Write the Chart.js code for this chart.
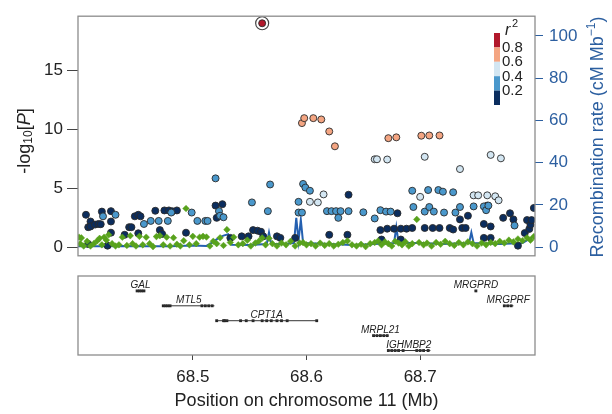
<!DOCTYPE html>
<html>
<head>
<meta charset="utf-8">
<script src="https://cdn.jsdelivr.net/npm/chart.js@4"></script>
<style>
  html, body { margin: 0; padding: 0; background: #fff; }
  #wrap { position: relative; width: 612px; height: 414px; }
  #top { position: absolute; left: 0; top: 0; width: 612px; height: 272px; }
  #bottom { position: absolute; left: 0; top: 272px; width: 612px; height: 142px; }
</style>
</head>
<body>
<div id="wrap">
  <div id="top"><canvas id="assocChart"></canvas></div>
  <div id="bottom"><canvas id="geneChart"></canvas></div>
</div>
<script>
const xRange = [68.399, 68.801];
const xTicks = [68.5, 68.6, 68.7];
const logpTicks = [0, 5, 10, 15];
const recombTicks = [0, 20, 40, 60, 80, 100];

const ldBreaks = ["0.2", "0.4", "0.6", "0.8"];
const ldColors = ["#0b2d5e", "#4a98cc", "#d3e6f2", "#f4a582", "#b2182b"];

const leadSnp = [[68.561, 19.0]];

const snpsHigh = [
  [68.596, 10.53], [68.598, 10.95], [68.606, 10.95], [68.613, 10.84],
  [68.620, 9.82], [68.625, 8.56], [68.672, 9.25], [68.679, 9.32],
  [68.701, 9.46], [68.708, 9.48], [68.717, 9.48],
];

const snpsMid = [
  [68.603, 3.85], [68.610, 3.80], [68.615, 4.48], [68.660, 7.46],
  [68.662, 7.46], [68.671, 7.44], [68.700, 4.27], [68.704, 7.67],
  [68.735, 6.63], [68.747, 4.40], [68.751, 4.40], [68.759, 4.40],
  [68.766, 4.32], [68.769, 3.98], [68.762, 7.83], [68.771, 7.54],
];

const snpsLow = [
  [68.421, 2.62], [68.432, 2.75], [68.457, 1.97], [68.463, 2.23],
  [68.470, 2.23], [68.478, 2.23], [68.481, 2.94], [68.499, 2.94],
  [68.504, 2.23], [68.511, 2.23], [68.513, 2.23], [68.520, 5.84],
  [68.523, 3.06], [68.524, 2.67], [68.527, 2.54], [68.552, 3.80],
  [68.566, 3.06], [68.568, 5.32], [68.593, 3.85], [68.593, 2.94],
  [68.596, 2.94], [68.597, 5.37], [68.599, 5.06], [68.603, 4.79],
  [68.618, 3.06], [68.622, 3.06], [68.626, 3.06], [68.628, 2.49],
  [68.630, 3.06], [68.637, 3.06], [68.650, 2.96], [68.660, 2.44],
  [68.665, 3.14], [68.670, 3.02], [68.674, 3.02], [68.693, 4.79],
  [68.694, 3.41], [68.704, 3.02], [68.707, 4.85], [68.708, 3.41],
  [68.712, 3.02], [68.716, 4.85], [68.720, 4.71], [68.721, 2.94],
  [68.729, 4.66], [68.731, 2.94], [68.735, 3.41], [68.747, 3.46],
  [68.756, 3.46], [68.758, 3.14], [68.760, 3.53], [68.783, 1.84],
];

const snpsNone = [
  [68.406, 2.75], [68.408, 1.70], [68.410, 2.18], [68.410, 1.76],
  [68.414, 1.92], [68.417, 1.97], [68.419, 1.95], [68.420, 3.02],
  [68.428, 3.06], [68.428, 2.18], [68.428, 1.23], [68.425, 0.13],
  [68.408, 0.27], [68.440, 1.05], [68.444, 1.70], [68.446, 1.70],
  [68.449, 2.62], [68.452, 2.75], [68.454, 2.62], [68.452, 1.18],
  [68.467, 3.09], [68.471, 1.45], [68.473, 1.13], [68.475, 3.12],
  [68.479, 3.12], [68.482, 3.05], [68.486, 3.12], [68.494, 1.23],
  [68.520, 3.53], [68.526, 3.65], [68.521, 2.49], [68.533, 0.79],
  [68.543, 0.92], [68.549, 0.92], [68.553, 1.45], [68.557, 1.40],
  [68.560, 1.31], [68.562, 0.92], [68.574, 0.92], [68.577, 0.79],
  [68.590, 0.79], [68.620, 1.05], [68.636, 1.05], [68.637, 4.45],
  [68.665, 1.45], [68.666, 0.65], [68.671, 1.57], [68.677, 1.57],
  [68.680, 2.88], [68.683, 1.57], [68.683, 0.65], [68.688, 1.57],
  [68.693, 1.63], [68.704, 1.63], [68.711, 1.63], [68.717, 1.63],
  [68.726, 1.63], [68.729, 1.50], [68.735, 2.36], [68.737, 1.63],
  [68.740, 1.63], [68.742, 2.67], [68.756, 1.97], [68.759, 3.53],
  [68.762, 1.76], [68.756, 0.79], [68.762, 0.79], [68.773, 2.49],
  [68.779, 2.88], [68.782, 2.36], [68.786, 0.13], [68.792, 1.20],
  [68.794, 2.30], [68.796, 1.55], [68.797, 1.90], [68.798, 2.30],
  [68.800, 3.33],
];

const snpsGreen = [
  [68.400, 0.85], [68.401, 0.30], [68.402, 0.79], [68.404, 0.10],
  [68.407, 0.50], [68.410, 0.10], [68.413, 0.30], [68.416, 0.55],
  [68.418, 0.75], [68.420, 0.20], [68.422, 0.85], [68.424, 0.60],
  [68.426, 1.05], [68.429, 0.30], [68.432, 0.10], [68.435, 0.20],
  [68.438, 0.85], [68.442, 0.15], [68.445, 0.97], [68.447, 0.30],
  [68.450, 0.10], [68.453, 0.92], [68.456, 0.20], [68.459, 0.85],
  [68.462, 0.30], [68.465, 0.05], [68.468, 0.90], [68.471, 0.97],
  [68.474, 0.20], [68.477, 0.85], [68.480, 0.10], [68.483, 0.80],
  [68.486, 0.25], [68.489, 0.10], [68.492, 0.55], [68.494, 3.28],
  [68.497, 0.20], [68.500, 0.92], [68.503, 0.30], [68.506, 0.85],
  [68.509, 0.92], [68.512, 0.86], [68.515, 0.10], [68.518, 0.50],
  [68.521, 0.30], [68.524, 0.80], [68.527, 0.15], [68.530, 1.49],
  [68.533, 0.40], [68.536, 0.85], [68.540, 0.20], [68.544, 0.30],
  [68.548, 0.60], [68.551, 0.10], [68.555, 0.35], [68.558, 0.50],
  [68.561, 0.79], [68.564, 0.20], [68.567, 0.75], [68.570, 0.30],
  [68.574, 0.10], [68.578, 0.35], [68.582, 0.20], [68.586, 0.50],
  [68.590, 0.10], [68.594, 0.35], [68.597, 0.39], [68.600, 0.20],
  [68.604, 0.30], [68.608, 0.10], [68.612, 0.35], [68.616, 0.15],
  [68.620, 0.30], [68.624, 0.10], [68.628, 0.25], [68.632, 0.40],
  [68.636, 0.53], [68.640, 0.20], [68.644, 0.10], [68.648, 0.25],
  [68.652, 0.05], [68.656, 0.30], [68.660, 0.40], [68.663, 0.53],
  [68.666, 0.20], [68.669, 0.45], [68.672, 0.30], [68.675, 0.10],
  [68.678, 0.50], [68.681, 0.35], [68.684, 0.20], [68.687, 0.45],
  [68.690, 0.10], [68.693, 0.30], [68.697, 2.36], [68.699, 0.40],
  [68.703, 0.20], [68.706, 0.35], [68.710, 0.10], [68.714, 0.40],
  [68.718, 0.25], [68.722, 0.50], [68.726, 0.30], [68.730, 0.15],
  [68.734, 0.40], [68.738, 0.20], [68.742, 0.45], [68.746, 0.30],
  [68.750, 0.10], [68.754, 0.35], [68.758, 0.20], [68.762, 0.40],
  [68.766, 0.30], [68.770, 0.50], [68.774, 0.35], [68.778, 0.60],
  [68.782, 0.45], [68.786, 0.70], [68.790, 0.55], [68.794, 0.80],
  [68.797, 0.60], [68.800, 0.90],
];

const recombPos = [
  68.399, 68.42, 68.44, 68.46, 68.48, 68.50, 68.512, 68.518, 68.523, 68.527,
  68.531, 68.534, 68.55, 68.565, 68.567, 68.569, 68.58, 68.589, 68.591, 68.593,
  68.595, 68.597, 68.62, 68.64, 68.66, 68.677, 68.679, 68.681, 68.70, 68.72,
  68.743, 68.745, 68.747, 68.77, 68.79, 68.801,
];
const recombRate = [
  0.5, 0.4, 0.6, 0.5, 0.4, 0.8, 0.6, 2.5, 4.5, 5.5,
  6.1, 1.2, 1.0, 1.5, 7.0, 1.5, 1.5, 2.0, 13.9, 3.0,
  13.0, 2.0, 1.5, 1.0, 1.5, 2.0, 9.5, 2.0, 2.0, 1.5,
  2.0, 7.0, 2.0, 1.5, 2.0, 5.5,
];

const geneNames = ["GAL", "MTL5", "CPT1A", "MRPL21", "IGHMBP2", "MRGPRD", "MRGPRF"];
const geneStart = [68.450, 68.474, 68.521, 68.658, 68.671, 68.748, 68.773];
const geneEnd = [68.458, 68.519, 68.609, 68.672, 68.709, 68.750, 68.782];
const geneRow = [1, 2, 3, 4, 5, 1, 2];
const geneExons = [
  [68.451, 68.453, 68.455, 68.457],
  [68.474, 68.476, 68.478, 68.480, 68.508, 68.511, 68.514, 68.517],
  [68.521, 68.527, 68.528, 68.530, 68.542, 68.547, 68.553, 68.561, 68.565, 68.569, 68.574, 68.578, 68.583, 68.609],
  [68.659, 68.662, 68.665, 68.668, 68.671],
  [68.672, 68.675, 68.678, 68.681, 68.685, 68.697, 68.700, 68.703, 68.707],
  [68.749],
  [68.774, 68.777, 68.780],
];

const FONT = "'Liberation Sans', Arial, sans-serif";
const recombColor = "#2c5fa0";
const boxColor = "#8c8c8c";

const toPoints = (pairs) => pairs.map(([x, y]) => ({ x, y }));

function snpSet(pairs, color, order) {
  return {
    type: "scatter",
    data: toPoints(pairs),
    yAxisID: "y",
    backgroundColor: color,
    borderColor: "#2a2a2a",
    borderWidth: 0.9,
    pointRadius: 3.5,
    order,
  };
}

const boxPlugin = {
  id: "box",
  afterDatasetsDraw(chart) {
    const { ctx, chartArea: a } = chart;
    ctx.save();
    ctx.strokeStyle = boxColor;
    ctx.lineWidth = 1.3;
    ctx.strokeRect(a.left, a.top, a.right - a.left, a.bottom - a.top);
    ctx.restore();
  },
};

function drawRun(ctx, parts, x, y) {
  let total = 0;
  parts.forEach((p) => {
    ctx.font = p.font;
    total += ctx.measureText(p.text).width;
  });
  let cx = x - total / 2;
  parts.forEach((p) => {
    ctx.font = p.font;
    ctx.fillText(p.text, cx, y + (p.dy || 0));
    cx += ctx.measureText(p.text).width;
  });
}

const decorPlugin = {
  id: "decor",
  afterDraw(chart) {
    const { ctx } = chart;
    ctx.save();
    ctx.textBaseline = "middle";
    ctx.textAlign = "left";

    ctx.save();
    ctx.translate(25, 141);
    ctx.rotate(-Math.PI / 2);
    ctx.fillStyle = "#222";
    drawRun(ctx, [
      { text: "-log", font: `18px ${FONT}` },
      { text: "10", font: `12px ${FONT}`, dy: 4 },
      { text: "[", font: `18px ${FONT}` },
      { text: "P", font: `italic 18px ${FONT}` },
      { text: "]", font: `18px ${FONT}` },
    ], 0, 0);
    ctx.restore();

    ctx.save();
    ctx.translate(598, 137);
    ctx.rotate(-Math.PI / 2);
    ctx.fillStyle = recombColor;
    drawRun(ctx, [
      { text: "Recombination rate (cM Mb", font: `18px ${FONT}` },
      { text: "\u22121", font: `12px ${FONT}`, dy: -6 },
      { text: ")", font: `18px ${FONT}` },
    ], 0, 0);
    ctx.restore();

    const barX = 494, barW = 6, barTop = 33, segH = 14.4;
    const colorsTopDown = ldColors.slice().reverse();
    colorsTopDown.forEach((c, i) => {
      ctx.fillStyle = c;
      ctx.fillRect(barX, barTop + i * segH, barW, segH);
    });
    ctx.fillStyle = "#222";
    ctx.font = `15px ${FONT}`;
    ldBreaks.slice().reverse().forEach((lab, i) => {
      ctx.fillText(lab, 502, barTop + (i + 1) * segH + 0.5);
    });
    ctx.font = `italic 16px ${FONT}`;
    ctx.fillText("r", 505, 31);
    ctx.font = `11px ${FONT}`;
    ctx.fillText("2", 512, 24);
    ctx.restore();
  },
};

new Chart(document.getElementById("assocChart"), {
  data: {
    datasets: [
      {
        type: "line",
        data: recombPos.map((x, i) => ({ x, y: recombRate[i] })),
        yAxisID: "y2",
        borderColor: "#2460b0",
        borderWidth: 2,
        pointRadius: 0,
        tension: 0,
        order: 10,
      },
      snpSet(snpsNone, ldColors[0], 9),
      {
        type: "scatter",
        data: toPoints(snpsGreen),
        yAxisID: "y",
        pointStyle: "rectRot",
        backgroundColor: "#58a21c",
        borderColor: "#58a21c",
        borderWidth: 0.5,
        pointRadius: 3.3,
        order: 8,
      },
      snpSet(snpsLow, ldColors[1], 7),
      snpSet(snpsMid, ldColors[2], 6),
      snpSet(snpsHigh, ldColors[3], 5),
      {
        type: "scatter",
        data: toPoints(leadSnp),
        yAxisID: "y",
        backgroundColor: "rgba(0,0,0,0)",
        borderColor: "#444",
        borderWidth: 1.2,
        pointRadius: 6.5,
        order: 2,
      },
      snpSet(leadSnp, ldColors[4], 1),
    ],
  },
  options: {
    responsive: true,
    maintainAspectRatio: false,
    animation: false,
    layout: { padding: { top: 12, bottom: 1, left: 0, right: 0 } },
    plugins: { legend: { display: false }, tooltip: { enabled: false } },
    scales: {
      x: { type: "linear", min: xRange[0], max: xRange[1], display: false },
      y: {
        position: "left",
        min: -0.73,
        max: 19.6,
        afterBuildTicks: (s) => { s.ticks = logpTicks.map((v) => ({ value: v })); },
        afterFit: (s) => { s.width = 78; },
        border: { display: false },
        grid: { drawOnChartArea: false, tickLength: 11, tickColor: "#444", tickWidth: 1 },
        ticks: { color: "#222", padding: 4, font: { family: FONT, size: 17 } },
      },
      y2: {
        position: "right",
        min: -4.07,
        max: 109.3,
        afterBuildTicks: (s) => { s.ticks = recombTicks.map((v) => ({ value: v })); },
        afterFit: (s) => { s.width = 77; },
        border: { display: false },
        grid: { drawOnChartArea: false, tickLength: 8, tickColor: recombColor, tickWidth: 1 },
        ticks: { color: recombColor, padding: 6, font: { family: FONT, size: 17 } },
      },
    },
  },
  plugins: [boxPlugin, decorPlugin],
});

const geneLabelPlugin = {
  id: "geneLabels",
  afterDatasetsDraw(chart) {
    const { ctx, scales } = chart;
    ctx.save();
    ctx.fillStyle = "#222";
    ctx.font = `italic 10px ${FONT}`;
    ctx.textAlign = "center";
    ctx.textBaseline = "alphabetic";
    geneNames.forEach((name, i) => {
      const px = scales.x.getPixelForValue((geneStart[i] + geneEnd[i]) / 2);
      const py = scales.y.getPixelForValue(geneRow[i]);
      ctx.fillText(name, px, py - 2.5);
    });
    ctx.restore();
  },
};

const geneSets = [];
geneNames.forEach((name, i) => {
  geneSets.push({
    type: "line",
    data: [{ x: geneStart[i], y: geneRow[i] }, { x: geneEnd[i], y: geneRow[i] }],
    borderColor: "#333",
    borderWidth: 1,
    pointRadius: 0,
  });
  geneSets.push({
    type: "scatter",
    data: geneExons[i].map((x) => ({ x, y: geneRow[i] })),
    pointStyle: "rect",
    backgroundColor: "#222",
    borderColor: "#222",
    borderWidth: 0,
    pointRadius: 2,
  });
});

new Chart(document.getElementById("geneChart"), {
  data: { datasets: geneSets },
  options: {
    responsive: true,
    maintainAspectRatio: false,
    animation: false,
    layout: { padding: { top: 4, bottom: 0, left: 78, right: 77 } },
    plugins: { legend: { display: false }, tooltip: { enabled: false } },
    scales: {
      x: {
        type: "linear",
        min: xRange[0],
        max: xRange[1],
        position: "bottom",
        afterBuildTicks: (s) => { s.ticks = xTicks.map((v) => ({ value: v })); },
        afterFit: (s) => { s.height = 59; },
        border: { display: false },
        grid: { drawOnChartArea: false, tickLength: 5, tickColor: "#444" },
        ticks: {
          color: "#222",
          padding: 7,
          font: { family: FONT, size: 17 },
          callback: (v) => v.toFixed(1),
        },
        title: {
          display: true,
          text: "Position on chromosome 11 (Mb)",
          color: "#222",
          font: { family: FONT, size: 18 },
          padding: { top: 0, bottom: 2 },
        },
      },
      y: { min: 0, max: 5.3, reverse: true, display: false },
    },
  },
  plugins: [boxPlugin, geneLabelPlugin],
});
</script>
</body>
</html>
